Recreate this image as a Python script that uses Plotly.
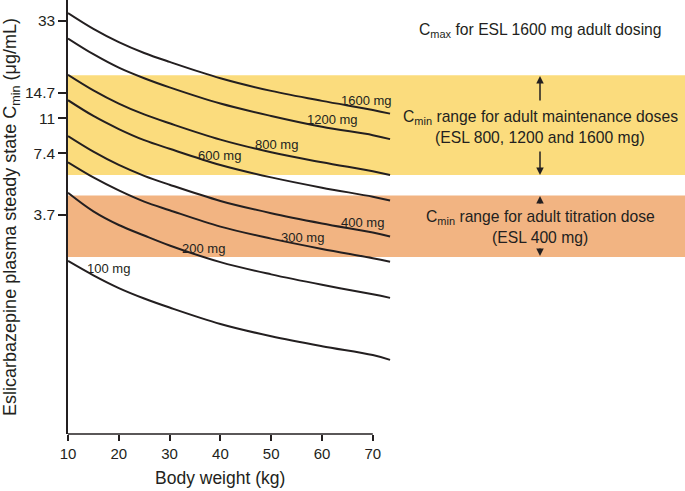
import plotly.graph_objects as go

# Body weight (kg) sample points
weights = [10, 15, 20, 25, 30, 40, 50, 60, 70, 73.4]

# Steady-state Cmin (ug/mL) curves per dose
cmin_1600 = [36.1, 30.2, 26.0, 23.0, 20.8, 17.3, 15.0, 13.4, 12.1, 11.6]
cmin_1200 = [27.1, 22.7, 19.5, 17.3, 15.6, 13.0, 11.3, 10.0, 9.1, 8.7]
cmin_800 = [18.0, 15.1, 13.0, 11.5, 10.4, 8.65, 7.5, 6.7, 6.05, 5.8]
cmin_600 = [13.5, 11.3, 9.75, 8.6, 7.8, 6.5, 5.65, 5.03, 4.54, 4.35]
cmin_400 = [9.0, 7.55, 6.5, 5.75, 5.2, 4.33, 3.77, 3.36, 3.03, 2.9]
cmin_300 = [6.7, 5.65, 4.88, 4.3, 3.9, 3.24, 2.83, 2.52, 2.27, 2.18]
cmin_200 = [4.75, 3.85, 3.3, 2.93, 2.62, 2.17, 1.89, 1.68, 1.51, 1.45]
cmin_100 = [2.2, 1.87, 1.62, 1.44, 1.3, 1.08, 0.94, 0.84, 0.76, 0.72]

dose_labels = ["1600 mg", "1200 mg", "800 mg", "600 mg", "400 mg", "300 mg", "200 mg", "100 mg"]
series = [cmin_1600, cmin_1200, cmin_800, cmin_600, cmin_400, cmin_300, cmin_200, cmin_100]

# Cmin ranges (ug/mL)
maintenance_range = [5.8, 17.9]
titration_range = [2.3, 4.6]

y_tickvals = [3.7, 7.4, 11, 14.7, 33]
y_ticktext = ["3.7", "7.4", "11", "14.7", "33"]
x_tickvals = [10, 20, 30, 40, 50, 60, 70]

INK = "#231F20"
FONT = "Liberation Sans, Arial, Helvetica, sans-serif"

fig = go.Figure()
for vals in series:
    fig.add_trace(go.Scatter(x=weights, y=vals, mode="lines",
                             line=dict(color=INK, width=2, shape="spline", smoothing=1.0),
                             showlegend=False, hoverinfo="skip"))

# shaded bands
fig.add_shape(type="rect", xref="paper", yref="y", x0=0, x1=1,
              y0=maintenance_range[0], y1=maintenance_range[1],
              fillcolor="#FBDC7D", line=dict(width=0), layer="below")
fig.add_shape(type="rect", xref="paper", yref="y", x0=0, x1=1,
              y0=titration_range[0], y1=titration_range[1],
              fillcolor="#F2B482", line=dict(width=0), layer="below")

# x axis line (only to 70 kg, with small overhang left)
fig.add_shape(type="line", xref="x", yref="paper", x0=8.4, x1=70, y0=0, y1=0,
              line=dict(color=INK, width=1.5))

# curve labels (x in kg, y in log10 units)
label_pos = [(68.7, 1.131), (62.0, 1.036), (51.1, 0.911), (39.9, 0.859),
             (67.9, 0.531), (56.2, 0.455), (36.6, 0.401), (17.9, 0.305)]
for lab, (lx, ly) in zip(dose_labels, label_pos):
    fig.add_annotation(x=lx, y=ly, xref="x", yref="y", text=lab, showarrow=False,
                       xanchor="center", yanchor="middle",
                       font=dict(size=13, color=INK, family=FONT))

H = 434.0
def py(p):
    return (H - p) / H

XC = (540 - 68) / 617.0
texts = [
    ("C<sub>max</sub> for ESL 1600 mg adult dosing", 31),
    ("C<sub>min</sub> range for adult maintenance doses", 117),
    ("(ESL 800, 1200 and 1600 mg)", 137),
    ("C<sub>min</sub> range for adult titration dose", 218),
    ("(ESL 400 mg)", 237),
]
for t, p in texts:
    fig.add_annotation(x=XC, y=py(p), xref="paper", yref="paper", text=t, showarrow=False,
                       xanchor="center", yanchor="middle",
                       font=dict(size=15.7, color=INK, family=FONT))

arrows = [(76, 26), (175, -25), (196, 9), (256, -9)]
for head, off in arrows:
    fig.add_annotation(x=XC, y=py(head), xref="paper", yref="paper", text="",
                       showarrow=True, ax=0, ay=off, arrowhead=2, arrowsize=1,
                       arrowwidth=1.5, arrowcolor=INK)

# x axis title
fig.add_annotation(x=40, y=py(478), xref="x", yref="paper", text="Body weight (kg)",
                   showarrow=False, xanchor="center", yanchor="middle",
                   font=dict(size=17.5, color=INK, family=FONT))

fig.update_xaxes(range=[10, 131.46], tickvals=x_tickvals, ticks="outside", ticklen=6,
                 tickwidth=1.5, tickcolor=INK, showline=False, showgrid=False, zeroline=False,
                 tickfont=dict(size=15, color=INK, family=FONT))
fig.update_yaxes(type="log", range=[-0.506, 1.6216], tickvals=y_tickvals, ticktext=y_ticktext,
                 ticks="outside", ticklen=8, tickwidth=1.5, tickcolor=INK,
                 showline=True, linecolor=INK, linewidth=1.5, showgrid=False, zeroline=False,
                 tickfont=dict(size=15.5, color=INK, family=FONT),
                 title=dict(text="Eslicarbazepine plasma steady state C<sub>min</sub> (\u03bcg/mL)",
                            font=dict(size=18, color=INK, family=FONT), standoff=6))

fig.update_layout(width=685, height=491, margin=dict(l=68, r=0, t=0, b=57, autoexpand=False),
                  plot_bgcolor="white", paper_bgcolor="white", showlegend=False)

fig.write_html("out.html", config={"displayModeBar": False},
               post_script="document.body.style.margin='0';")
